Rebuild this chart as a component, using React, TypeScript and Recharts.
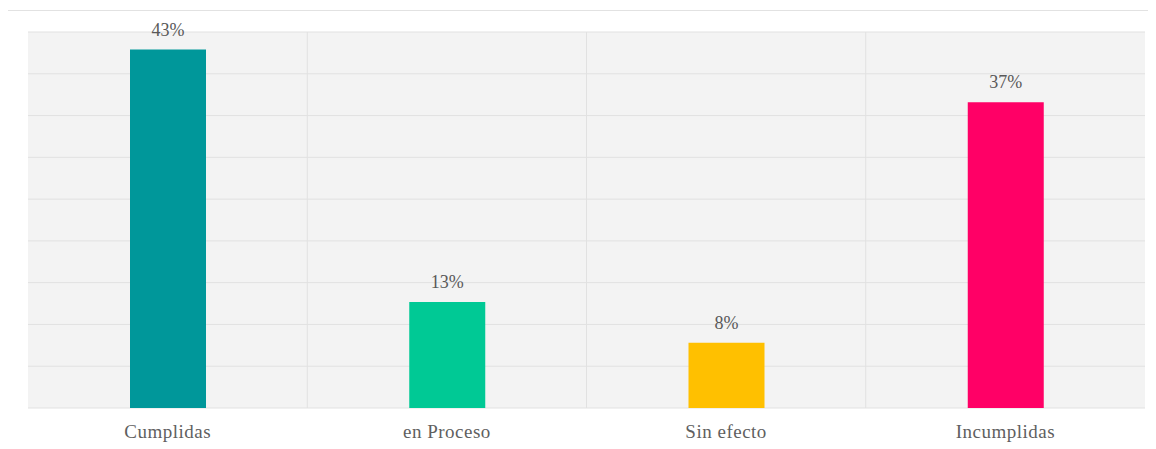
import React from 'react';
import { BarChart, Bar, XAxis, YAxis, CartesianGrid, LabelList, Cell } from 'recharts';

const categories = ['Cumplidas', 'en Proceso', 'Sin efecto', 'Incumplidas'];
const values = [42.9, 12.7, 7.8, 36.6];
const barColors = ['#00979A', '#00C995', '#FFC000', '#FF0066'];
const yTicks = [0, 5, 10, 15, 20, 25, 30, 35, 40, 45];

const data = categories.map((name, i) => ({ name, value: values[i] }));

const FONT = '"Liberation Serif", "Times New Roman", serif';

const AxisTick = (props: any) => {
  const { x, y, payload } = props;
  return (
    <text
      x={x}
      y={y + 30}
      textAnchor="middle"
      fill="#5f5f5f"
      fontFamily={FONT}
      fontSize={19}
      letterSpacing={0.5}
    >
      {payload.value}
    </text>
  );
};

const verticalGen = ({ offset }: any) => {
  const n = categories.length;
  const out: number[] = [];
  for (let i = 1; i < n; i++) out.push(offset.left + (offset.width * i) / n);
  return out;
};

export default function App() {
  return (
    <div
      style={{
        position: 'relative',
        top: 2,
        left: -1,
        width: 1142,
        height: 440,
        borderTop: '1px solid #e2e2e2',
        borderLeft: '1px solid #e2e2e2',
        borderRight: '1px solid #e2e2e2',
        background: '#ffffff',
      }}
    >
      <BarChart
        width={1142}
        height={438}
        data={data}
        margin={{ top: 21, right: 5, left: 20, bottom: 11 }}
      >
        <CartesianGrid
          fill="#f3f3f3"
          stroke="#e1e1e1"
          verticalCoordinatesGenerator={verticalGen}
        />
        <XAxis
          dataKey="name"
          height={30}
          axisLine={false}
          tickLine={false}
          tickSize={0}
          tickMargin={0}
          tick={<AxisTick />}
          interval={0}
        />
        <YAxis hide domain={[0, 45]} ticks={yTicks} />
        <Bar dataKey="value" barSize={76} isAnimationActive={false}>
          {data.map((d, i) => (
            <Cell key={d.name} fill={barColors[i]} />
          ))}
          <LabelList
            dataKey="value"
            position="top"
            offset={14}
            formatter={(v: any) => `${Math.round(Number(v))}%`}
            fill="#595959"
            fontFamily={FONT}
            fontSize={18}
          />
        </Bar>
      </BarChart>
    </div>
  );
}
